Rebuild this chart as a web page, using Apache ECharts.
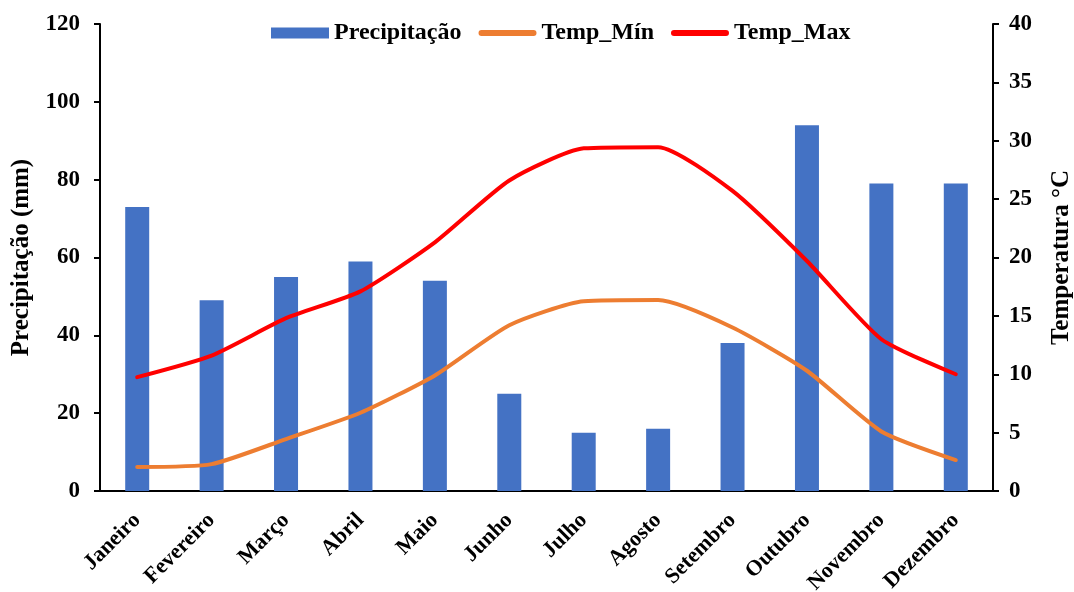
<!DOCTYPE html>
<html>
<head>
<meta charset="utf-8">
<script src="https://cdn.jsdelivr.net/npm/echarts@6/dist/echarts.min.js"></script>
<style>html,body{margin:0;padding:0;background:#fff}#c{width:1074px;height:592px}</style>
</head>
<body>
<div id="c"></div>
<script>
const months = ['Janeiro','Fevereiro','Março','Abril','Maio','Junho','Julho','Agosto','Setembro','Outubro','Novembro','Dezembro'];
const precipitacao = [73, 49, 55, 59, 54, 25, 15, 16, 38, 94, 79, 79];
const tempMin = [2.05, 2.3, 4.45, 6.7, 9.9, 14.2, 16.25, 16.35, 14.0, 10.3, 5.1, 2.65];
const tempMax = [9.75, 11.6, 14.8, 17.1, 21.3, 26.6, 29.35, 29.45, 25.7, 19.7, 13.0, 10.0];

const font = 'Liberation Serif, Times New Roman, serif';
const lineIcon = 'path://M3,0 L55,0 A3,3 0 0 1 55,6 L3,6 A3,3 0 0 1 3,0 Z';
const chart = echarts.init(document.getElementById('c'));
chart.setOption({
  animation: false,
  textStyle: {fontFamily: font},
  legend: {
    top: 16, left: 266, itemGap: 17, itemWidth: 58, itemHeight: 11,
    textStyle: {fontFamily: font, fontSize: 24, fontWeight: 'bold', color: '#000'},
    data: [
      {name: 'Precipitação', icon: 'rect'},
      {name: 'Temp_Mín', icon: lineIcon},
      {name: 'Temp_Max', icon: lineIcon}
    ]
  },
  grid: {left: 100, right: 81, top: 24, bottom: 101, containLabel: false, outerBoundsMode: 'none'},
  xAxis: {
    type: 'category', data: months,
    axisLine: {lineStyle: {color: '#000', width: 2}},
    axisTick: {show: false},
    axisLabel: {rotate: 45, fontFamily: font, fontSize: 22, fontWeight: 'bold', color: '#000', margin: 26, interval: 0}
  },
  yAxis: [
    {
      type: 'value', min: 0, max: 120, interval: 20,
      name: 'Precipitação (mm)', nameLocation: 'middle', nameGap: 66, nameRotate: 90,
      nameTextStyle: {fontFamily: font, fontSize: 25, fontWeight: 'bold', color: '#000'},
      axisLine: {show: true, lineStyle: {color: '#000', width: 2}},
      axisTick: {show: true, length: 6, lineStyle: {color: '#000', width: 2}},
      axisLabel: {fontFamily: font, fontSize: 23, fontWeight: 'bold', color: '#000', margin: 20},
      splitLine: {show: false}
    },
    {
      type: 'value', min: 0, max: 40, interval: 5,
      name: 'Temperatura °C', nameLocation: 'middle', nameGap: 56, nameRotate: 90,
      nameTextStyle: {fontFamily: font, fontSize: 25, fontWeight: 'bold', color: '#000'},
      axisLine: {show: true, lineStyle: {color: '#000', width: 2}},
      axisTick: {show: true, length: 6, lineStyle: {color: '#000', width: 2}},
      axisLabel: {fontFamily: font, fontSize: 23, fontWeight: 'bold', color: '#000', margin: 16},
      splitLine: {show: false}
    }
  ],
  series: [
    {
      name: 'Precipitação', type: 'bar', data: precipitacao, yAxisIndex: 0,
      barWidth: 24, itemStyle: {color: '#4472C4'}
    },
    {
      name: 'Temp_Mín', type: 'line', data: tempMin, yAxisIndex: 1,
      smooth: 0.2, symbol: 'none', lineStyle: {color: '#ED7D31', width: 4, cap: 'round'},
      itemStyle: {color: '#ED7D31'}
    },
    {
      name: 'Temp_Max', type: 'line', data: tempMax, yAxisIndex: 1,
      smooth: 0.2, symbol: 'none', lineStyle: {color: '#FF0000', width: 4, cap: 'round'},
      itemStyle: {color: '#FF0000'}
    }
  ]
});
</script>
</body>
</html>
